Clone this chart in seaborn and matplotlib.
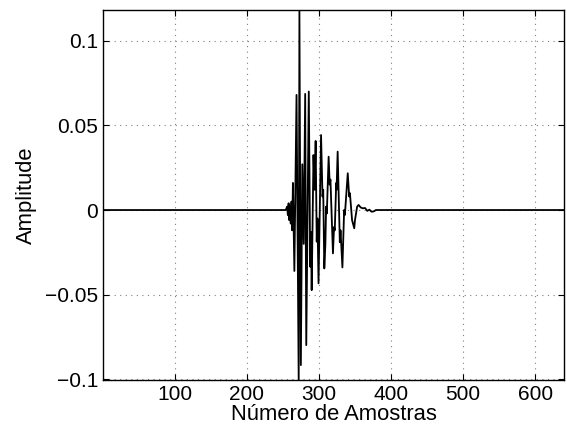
import numpy as np
import pandas as pd
import matplotlib
matplotlib.use('Agg')
import matplotlib.pyplot as plt
import seaborn as sns

# vértices do sinal (amostra, amplitude)
amostras = [1, 254, 256, 257, 258, 259, 260, 261, 262, 263, 264, 266, 269, 272,
            273, 275, 277, 279, 281, 282.5, 286, 288, 289, 290, 292.5, 294, 295.5,
            297, 298, 299.5, 303, 305, 306, 307.5, 309, 310, 311, 313.5, 315, 316,
            319.5, 321, 322, 324, 324.5, 326, 329, 330, 332.6, 335, 336, 340, 342,
            343, 346, 349, 350, 353, 355, 358, 361, 364, 367, 370, 373, 376, 379,
            382, 640]
amplitude = [0, 0, 0.002, -0.003, 0.004, -0.006, 0.002, -0.008, 0.005, -0.012,
             0.016, -0.036, 0.068, -0.1005, 0.118, -0.0916, 0.027, -0.02, 0.0686,
             -0.0798, 0.070, -0.0335, -0.013, -0.0473, 0.0325, 0.012, 0.0408,
             -0.0187, -0.005, -0.0433, 0.0443, 0.008, 0.012, -0.0345, -0.02, 0.002,
             -0.002, 0.0315, 0.015, 0.018, -0.0256, -0.01, -0.012, 0.016, 0.012,
             0.0345, -0.019, -0.012, -0.0339, 0.0, -0.003, 0.0217, 0.008, 0.01,
             -0.006, -0.0108, -0.006, 0.002, 0.003, 0.0015, 0.001, 0.0012, -0.0005,
             0.0002, -0.001, -0.0008, 0.0, 0.0, 0]

xticks = [100, 200, 300, 400, 500, 600]
yticks = [-0.1, -0.05, 0, 0.05, 0.1]
ytick_labels = ['\u22120.1', '\u22120.05', '0', '0.05', '0.1']

sns.set_style('ticks')
plt.rcParams['font.family'] = ['Liberation Sans', 'DejaVu Sans']
plt.rcParams['text.color'] = 'black'
plt.rcParams['axes.labelcolor'] = 'black'

df = pd.DataFrame({'Amostra': amostras, 'Amplitude': amplitude})

fig = plt.figure(figsize=(5.67, 4.32), dpi=100)
ax = fig.add_axes([0.182, 0.120, 0.813, 0.857])
sns.lineplot(data=df, x='Amostra', y='Amplitude', ax=ax, color='black',
             linewidth=1.3, estimator=None, sort=False)

ax.set_xlim(1, 640)
ax.set_ylim(-0.1005, 0.1182)
ax.set_xticks(xticks)
ax.set_xticklabels([str(t) for t in xticks])
ax.set_yticks(yticks)
ax.set_yticklabels(ytick_labels)
ax.grid(True, color='#808080', linestyle=(0, (1, 4)), linewidth=0.8)
ax.tick_params(direction='in', top=True, right=True, labelsize=15, length=4,
               width=0.8, colors='black')
for s in ax.spines.values():
    s.set_visible(True)
    s.set_linewidth(1.0)
    s.set_color('black')

ax.set_xlabel('Número de Amostras', fontsize=15.8, labelpad=0, color='black')
ax.set_ylabel('Amplitude', fontsize=15.8, labelpad=6, color='black')

fig.savefig('out.png', dpi=100)
